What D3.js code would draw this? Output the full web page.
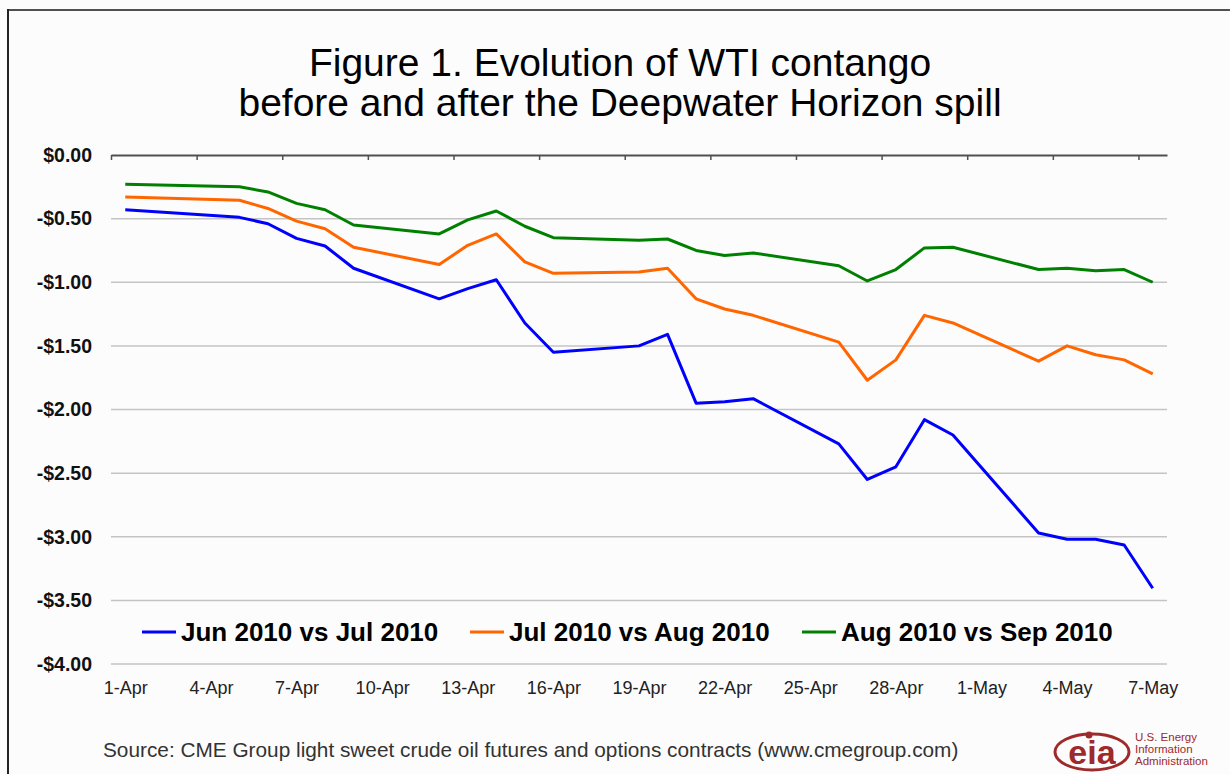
<!DOCTYPE html>
<html>
<head>
<meta charset="utf-8">
<script src="https://cdn.jsdelivr.net/npm/d3@7"></script>
<style>
  body { margin: 0; background: #fcfcfc; }
  svg { display: block; font-family: "Liberation Sans", Arial, sans-serif; }
</style>
</head>
<body>
<div class="chart"></div>
<script>
// trading days, 1 Apr - 7 May 2010
const dates = ["2010-04-01", "2010-04-05", "2010-04-06", "2010-04-07", "2010-04-08", "2010-04-09",
  "2010-04-12", "2010-04-13", "2010-04-14", "2010-04-15", "2010-04-16",
  "2010-04-19", "2010-04-20", "2010-04-21", "2010-04-22", "2010-04-23",
  "2010-04-26", "2010-04-27", "2010-04-28", "2010-04-29", "2010-04-30",
  "2010-05-03", "2010-05-04", "2010-05-05", "2010-05-06", "2010-05-07"];

const junJul = [-0.43, -0.49, -0.54, -0.655, -0.715, -0.89, -1.13, -1.05, -0.98, -1.32, -1.55,
  -1.50, -1.41, -1.95, -1.94, -1.915, -2.27, -2.55, -2.45, -2.08, -2.20,
  -2.97, -3.02, -3.02, -3.065, -3.405];
const julAug = [-0.33, -0.356, -0.42, -0.52, -0.58, -0.725, -0.86, -0.71, -0.62, -0.84, -0.93,
  -0.92, -0.89, -1.13, -1.21, -1.26, -1.47, -1.77, -1.61, -1.26, -1.32,
  -1.62, -1.50, -1.57, -1.61, -1.72];
const augSep = [-0.23, -0.25, -0.29, -0.38, -0.43, -0.55, -0.62, -0.51, -0.44, -0.56, -0.65,
  -0.67, -0.66, -0.75, -0.79, -0.77, -0.87, -0.99, -0.90, -0.73, -0.725,
  -0.90, -0.89, -0.91, -0.90, -1.00];

const seriesNames = ["Jun 2010 vs Jul 2010", "Jul 2010 vs Aug 2010", "Aug 2010 vs Sep 2010"];
const seriesColors = ["#0000ff", "#ff6600", "#008000"];
const yTicks = [0, -0.5, -1, -1.5, -2, -2.5, -3, -3.5, -4];

const width = 1230, height = 774;
const parse = d3.utcParse("%Y-%m-%d");
const fmtDay = d3.utcFormat("%-d-%b");
const DAY = 864e5;

const first = parse(dates[0]), last = parse(dates[dates.length - 1]);

const x = d3.scaleUtc()
  .domain([new Date(+first - DAY / 2), new Date(+last + DAY / 2)])
  .range([111, 1167]);
const y = d3.scaleLinear().domain([-4, 0]).range([664, 155]);

const svg = d3.select('.chart')
  .append('svg')
  .attr('width', width)
  .attr('height', height);

svg.append('rect').attr('width', width).attr('height', height).attr('fill', '#fcfcfc');

// frame
svg.append('line').attr('x1', 7).attr('x2', width).attr('y1', 10).attr('y2', 10)
  .attr('stroke', '#505050').attr('stroke-width', 2);
svg.append('line').attr('x1', 8).attr('x2', 8).attr('y1', 9).attr('y2', height)
  .attr('stroke', '#222').attr('stroke-width', 2);

// title
const title = svg.append('text')
  .attr('text-anchor', 'middle')
  .attr('font-size', 39)
  .attr('fill', '#000');
title.append('tspan').attr('x', 620).attr('y', 76).text('Figure 1. Evolution of WTI contango');
title.append('tspan').attr('x', 620).attr('y', 116).text('before and after the Deepwater Horizon spill');

// gridlines
svg.append('g')
  .selectAll('line')
  .data(yTicks.filter(d => d !== 0))
  .enter()
  .append('line')
  .attr('x1', x.range()[0])
  .attr('x2', x.range()[1])
  .attr('y1', d => y(d))
  .attr('y2', d => y(d))
  .attr('stroke', '#c4c4c4')
  .attr('stroke-width', 1.5);

// y axis labels
const yAxis = svg.append('g')
  .attr('transform', 'translate(111,0)')
  .call(d3.axisLeft(y)
    .tickValues(yTicks)
    .tickSize(0)
    .tickPadding(19)
    .tickFormat(d => (d < 0 ? '-' : '') + '$' + Math.abs(d).toFixed(2)));
yAxis.select('.domain').remove();
yAxis.selectAll('text')
  .attr('font-family', '"Liberation Sans", Arial, sans-serif')
  .attr('font-size', 19.5)
  .attr('font-weight', 'bold')
  .attr('fill', '#111');

// x axis line at $0 with ticks between days
const tickDates = d3.range(0, 13).map(k => new Date(+first - DAY / 2 + k * 3 * DAY));
const xAxis = svg.append('g')
  .attr('transform', 'translate(0,' + y(0) + ')')
  .call(d3.axisBottom(x).tickValues(tickDates).tickSize(5).tickSizeOuter(0).tickFormat(''));
xAxis.select('.domain').attr('stroke', '#505050').attr('stroke-width', 2);
xAxis.selectAll('.tick line').attr('stroke', '#505050').attr('stroke-width', 1.5);

// x labels at the bottom
const labelDates = d3.range(0, 13).map(k => new Date(+first + k * 3 * DAY));
const xLabels = svg.append('g')
  .attr('transform', 'translate(0,681)')
  .call(d3.axisBottom(x).tickValues(labelDates).tickSize(0).tickPadding(0).tickFormat(fmtDay));
xLabels.select('.domain').remove();
xLabels.selectAll('text')
  .attr('font-family', '"Liberation Sans", Arial, sans-serif')
  .attr('font-size', 18)
  .attr('fill', '#222');

// lines
const series = [junJul, julAug, augSep];
const line = d3.line()
  .x((d, i) => x(parse(dates[i])))
  .y(d => y(d));

svg.append('g')
  .selectAll('path')
  .data(series)
  .enter()
  .append('path')
  .attr('d', line)
  .attr('fill', 'none')
  .attr('stroke', (d, i) => seriesColors[i])
  .attr('stroke-width', 3)
  .attr('stroke-linejoin', 'round');

// legend
const legendX = [142, 470, 802];
const legend = svg.selectAll('.legend')
  .data(seriesNames)
  .enter()
  .append('g')
  .attr('class', 'legend')
  .attr('transform', (d, i) => 'translate(' + legendX[i] + ',632)');
legend.append('line')
  .attr('x1', 0).attr('x2', 34)
  .attr('stroke', (d, i) => seriesColors[i])
  .attr('stroke-width', 3);
legend.append('text')
  .attr('x', 39)
  .attr('y', 9)
  .attr('font-size', 26)
  .attr('font-weight', 'bold')
  .attr('fill', '#000')
  .text(d => d);

// source
svg.append('text')
  .attr('x', 103)
  .attr('y', 757)
  .attr('font-size', 20.8)
  .attr('fill', '#333')
  .text('Source: CME Group light sweet crude oil futures and options contracts (www.cmegroup.com)');

// eia logo
const logo = svg.append('g').attr('fill', '#9e2a2b');
logo.append('ellipse')
  .attr('cx', 1092).attr('cy', 752).attr('rx', 37).attr('ry', 18)
  .attr('fill', 'none').attr('stroke', '#9e2a2b').attr('stroke-width', 3);
logo.append('text')
  .attr('x', 1092).attr('y', 764)
  .attr('text-anchor', 'middle')
  .attr('font-size', 34)
  .attr('font-weight', 'bold')
  .text('eia');
logo.append('circle').attr('cx', 1089).attr('cy', 735).attr('r', 3.5);
['U.S. Energy', 'Information', 'Administration'].forEach((t, i) => {
  logo.append('text')
    .attr('x', 1135)
    .attr('y', 741 + i * 12)
    .attr('font-size', 11.5)
    .text(t);
});
</script>
</body>
</html>
